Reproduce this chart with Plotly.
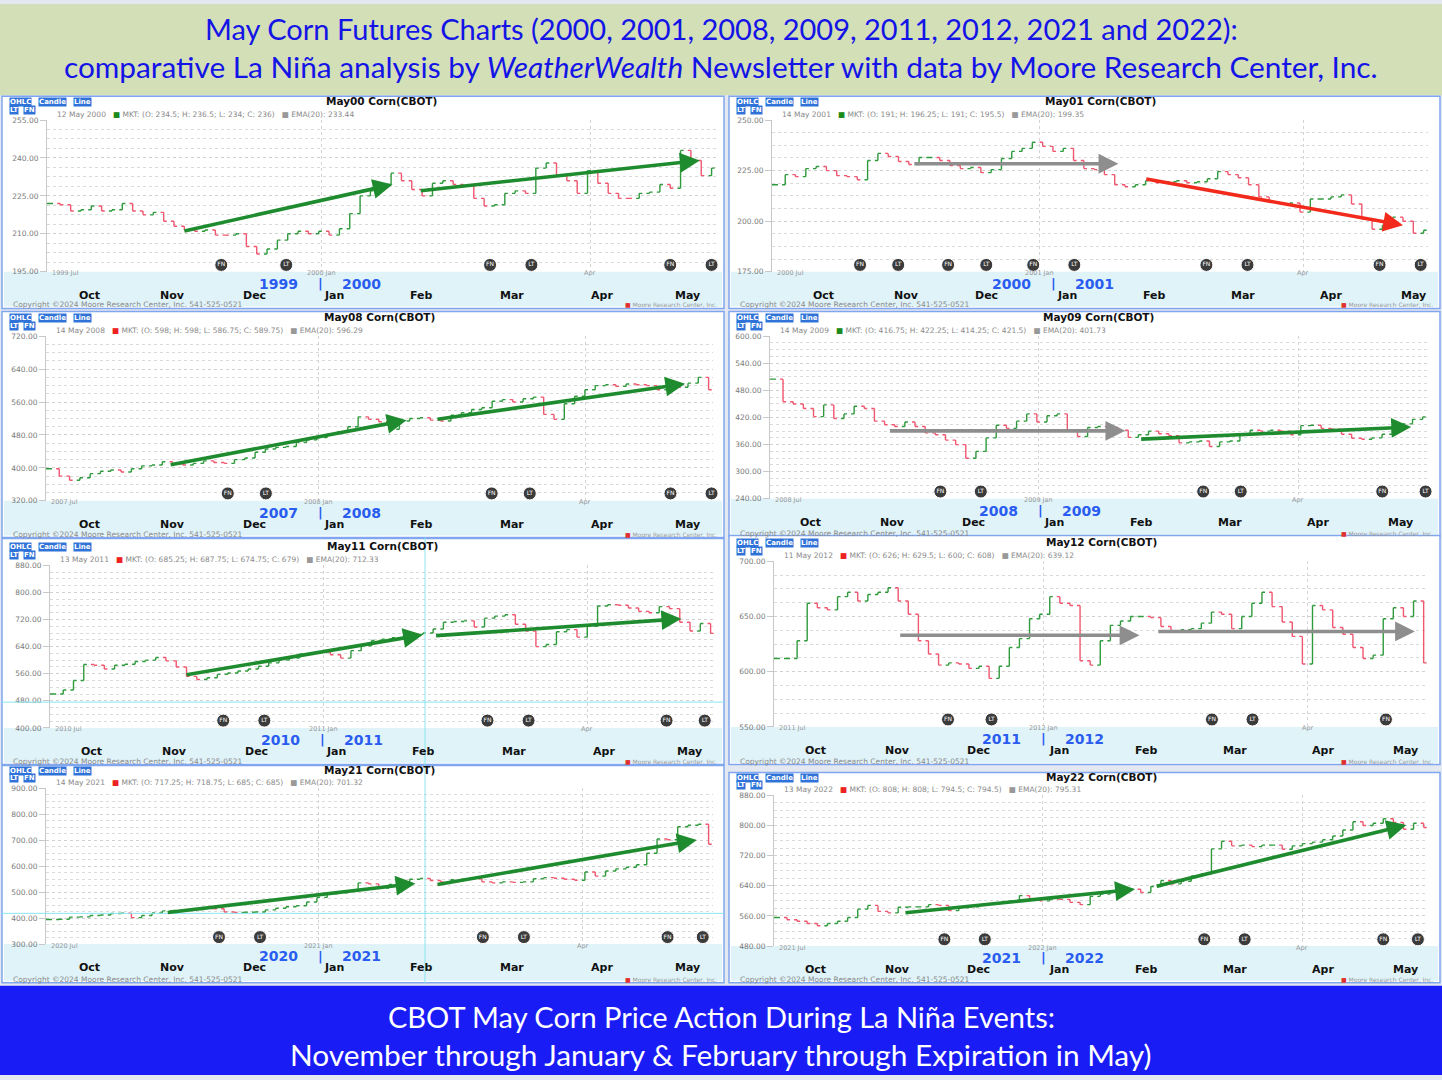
import pandas as pd
import plotly.graph_objects as go

W, H = 1442, 1080

# daily closes, spaced evenly from first to last bar date
may00_close = [222, 221.5, 219, 219.5, 221, 219, 219.5, 222, 219, 217.5, 218.5, 215, 213, 211.5, 211, 211.5,
               209.5, 209.5, 210, 205, 202, 204, 207.5, 210, 211, 210, 211, 209.5, 212, 218, 225, 227, 229.5,
               234, 231, 227.5, 225, 230, 231, 229.5, 229, 224, 221, 221.5, 226, 227, 226, 236, 238, 233, 231,
               226, 235, 230, 226, 224, 224, 226, 226.5, 229.5, 228, 243, 239, 233, 236]
may01_close = [218, 223, 222, 226, 227, 225, 222.5, 222, 220.5, 230, 233.5, 232, 229.5, 228, 231.5, 231.5, 230,
               227.5, 226, 226.5, 224, 225.5, 231, 234.5, 236, 239, 237, 234.5, 236, 230, 226, 225.5, 223, 218,
               217, 218, 220, 219, 219.5, 220, 219, 219.5, 221, 224.5, 223, 221.5, 218, 212, 209.5, 208.5, 209,
               204.5, 211, 211, 212, 213, 208.5, 201, 196, 198, 202, 200, 194, 195.5]
may08_close = [398, 380, 370, 376, 386, 392, 395, 390, 398, 405, 407, 415, 410, 407, 411, 417, 413, 411, 420, 424,
               438, 446, 450, 452, 462, 468, 474, 482, 488, 500, 524, 518, 512, 494, 514, 520, 522, 516, 514, 528,
               534, 542, 546, 562, 566, 560, 568, 572, 530, 518, 556, 574, 590, 600, 602, 598, 604, 602, 600, 590,
               604, 596, 606, 620, 589.75]
may09_close = [505, 455, 450, 440, 422, 448, 418, 428, 445, 440, 412, 404, 400, 410, 400, 386, 382, 370, 360, 330,
               345, 375, 403, 396, 412, 428, 410, 424, 428, 390, 378, 398, 400, 398, 392, 376, 382, 390, 384, 380,
               364, 366, 368, 356, 366, 368, 382, 392, 390, 392, 390, 382, 402, 403, 396, 394, 383, 374, 372, 375,
               383, 398, 406, 416, 421.5]
may11_close = [500, 512, 540, 587, 585, 574, 585, 588, 596, 600, 608, 598, 580, 552, 543, 548, 558, 562, 568, 574,
               582, 592, 600, 606, 618, 622, 624, 616, 606, 628, 642, 658, 662, 666, 668, 676, 680, 692, 712, 714,
               716, 698, 724, 730, 734, 706, 686, 640, 646, 684, 690, 668, 700, 760, 764, 762, 754, 744, 740, 758,
               752, 712, 686, 708, 679]
may12_close = [612, 612, 628, 662, 658, 656, 668, 672, 664, 670, 672, 676, 664, 652, 628, 616, 606, 608, 607, 603,
               605, 594, 605, 622, 630, 648, 652, 668, 662, 660, 610, 606, 628, 642, 646, 650, 650, 649, 641, 636,
               638, 639, 644, 654, 652, 639, 650, 662, 672, 659, 645, 632, 607, 660, 656, 640, 634, 622, 612, 615,
               648, 658, 650, 664, 608]
may21_close = [395, 396, 404, 405, 410, 412, 418, 419, 402, 410, 420, 428, 430, 432, 433, 437, 436, 424, 422, 423,
               424, 432, 438, 444, 448, 462, 480, 494, 498, 505, 536, 532, 516, 530, 540, 550, 553, 545, 540, 548,
               550, 552, 540, 536, 540, 538, 540, 552, 556, 554, 550, 546, 578, 562, 582, 590, 596, 606, 650, 705,
               702, 752, 758, 762, 685]
may22_close = [556, 550, 546, 540, 534, 540, 546, 556, 578, 588, 572, 568, 583, 584, 584, 590, 588, 574, 582, 584,
               590, 592, 594, 600, 614, 606, 600, 605, 604, 596, 590, 612, 618, 624, 628, 631, 622, 638, 654, 645,
               652, 666, 672, 738, 758, 746, 748, 744, 748, 748, 737, 746, 752, 756, 762, 772, 788, 810, 800, 806,
               818, 808, 790, 806, 794.5]

closes = [may00_close, may01_close, may08_close, may09_close, may11_close, may12_close, may21_close, may22_close]
first_bar = ["1999-10-01", "2000-10-03", "2007-10-01", "2008-10-01", "2010-10-01", "2011-10-01", "2020-10-01", "2021-10-01"]
last_bar = ["2000-05-12", "2001-05-12", "2008-05-13", "2009-05-14", "2011-05-13", "2012-05-11", "2021-05-14", "2022-05-13"]

titles = ["May00 Corn(CBOT)", "May01 Corn(CBOT)", "May08 Corn(CBOT)", "May09 Corn(CBOT)",
          "May11 Corn(CBOT)", "May12 Corn(CBOT)", "May21 Corn(CBOT)", "May22 Corn(CBOT)"]
quote_dates = ["12 May 2000", "14 May 2001", "14 May 2008", "14 May 2009", "13 May 2011", "11 May 2012", "14 May 2021", "13 May 2022"]
quote_text = ["MKT: (O: 234.5; H: 236.5; L: 234; C: 236)", "MKT: (O: 191; H: 196.25; L: 191; C: 195.5)",
              "MKT: (O: 598; H: 598; L: 586.75; C: 589.75)", "MKT: (O: 416.75; H: 422.25; L: 414.25; C: 421.5)",
              "MKT: (O: 685.25; H: 687.75; L: 674.75; C: 679)", "MKT: (O: 626; H: 629.5; L: 600; C: 608)",
              "MKT: (O: 717.25; H: 718.75; L: 685; C: 685)", "MKT: (O: 808; H: 808; L: 794.5; C: 794.5)"]
quote_up = [True, True, False, True, False, False, False, False]
ema_text = ["EMA(20): 233.44", "EMA(20): 199.35", "EMA(20): 596.29", "EMA(20): 401.73",
            "EMA(20): 712.33", "EMA(20): 639.12", "EMA(20): 701.32", "EMA(20): 795.31"]
seasons = [("1999", "2000"), ("2000", "2001"), ("2007", "2008"), ("2008", "2009"),
           ("2010", "2011"), ("2011", "2012"), ("2020", "2021"), ("2021", "2022")]
y_lo = [195, 175, 320, 240, 400, 550, 300, 480]
y_hi = [255, 250, 720, 600, 880, 700, 900, 880]
y_step = [15, 25, 80, 60, 80, 50, 100, 80]

# first notice / last trading day flags (alternating FN, LT)
notice_dates = [
    ["1999-11-28", "1999-12-20", "2000-02-27", "2000-03-12", "2000-04-28", "2000-05-12"],
    ["2000-11-01", "2000-11-14", "2000-12-01", "2000-12-14", "2000-12-30", "2001-01-13",
     "2001-02-27", "2001-03-13", "2001-04-27", "2001-05-11"],
    ["2007-12-01", "2007-12-14", "2008-02-29", "2008-03-13", "2008-04-30", "2008-05-14"],
    ["2008-11-28", "2008-12-12", "2009-02-27", "2009-03-12", "2009-04-30", "2009-05-15"],
    ["2010-11-28", "2010-12-12", "2011-02-26", "2011-03-12", "2011-04-28", "2011-05-11"],
    ["2011-11-29", "2011-12-14", "2012-02-28", "2012-03-13", "2012-04-28"],
    ["2020-11-28", "2020-12-12", "2021-02-26", "2021-03-12", "2021-04-30", "2021-05-12"],
    ["2021-11-28", "2021-12-12", "2022-02-26", "2022-03-12", "2022-04-29", "2022-05-11"],
]

GREEN, RED, GREY = "#1e8c2e", "#f22a1c", "#8e8e8e"
# trend arrows: (start date, start price, end date, end price, colour)
trend_arrows = [
    [("1999-11-15", 211, "2000-01-25", 229.5, GREEN), ("2000-02-03", 227, "2000-05-08", 239, GREEN)],
    [("2000-11-19", 228.4, "2001-01-28", 228.4, GREY), ("2001-02-06", 221, "2001-05-05", 198, RED)],
    [("2007-11-11", 407, "2008-01-31", 516, GREEN), ("2008-02-10", 517.6, "2008-05-05", 604.6, GREEN)],
    [("2008-11-10", 390.5, "2009-01-31", 390.5, GREY), ("2009-02-05", 372, "2009-05-10", 399, GREEN)],
    [("2010-11-15", 556, "2011-02-04", 675, GREEN), ("2011-02-08", 672, "2011-05-03", 722, GREEN)],
    [("2011-11-12", 633, "2012-02-03", 633, GREY), ("2012-02-09", 636.5, "2012-05-08", 636.5, GREY)],
    [("2020-11-10", 421, "2021-02-03", 534, GREEN), ("2021-02-10", 529, "2021-05-10", 701.6, GREEN)],
    [("2021-11-14", 568, "2022-02-02", 631, GREEN), ("2022-02-09", 638, "2022-05-07", 801, GREEN)],
]
months = ["Oct", "Nov", "Dec", "Jan", "Feb", "Mar", "Apr", "May"]

# page layout in pixels: panel frame and price area as (left, right, top, bottom)
frames = [(2, 724, 93, 307), (729, 1440, 93, 307), (2, 724, 310, 538), (729, 1440, 310, 537),
          (2, 724, 539, 767), (729, 1440, 536, 767), (2, 724, 768, 987), (729, 1440, 775, 987)]
areas = [(47, 716, 117, 270), (772, 1428, 117, 270), (46, 713, 335, 501), (770, 1427, 335, 499),
         (50, 715, 566, 730), (774, 1428, 562, 729), (46, 713, 791, 948), (774, 1428, 798, 950)]
month_x_left = [89, 172, 254, 334, 421, 512, 602, 687]
month_x_right = [815, 898, 978, 1059, 1146, 1235, 1323, 1405]
month_shift = [0, 8, 0, -5, 2, 0, 0, 0]
divider_x = [320, 1053, 320, 1040, 322, 1043, 320, 1043]

UP, DOWN = "#2f9a3c", "#f0566e"
FONT = "DejaVu Sans"
TITLE_FONT = "Lato"


def px(x):
    return x / W


def py(y):
    return 1 - y / H


shapes, notes = [], []


def label(x, y, s, size, color="#333", xanchor="center", xref="paper", yref="paper", family=FONT, **kw):
    notes.append(dict(x=x, y=y, xref=xref, yref=yref, text=s, showarrow=False, xanchor=xanchor,
                      yanchor="middle", font=dict(family=family, size=size, color=color), **kw))


def box(x0, x1, y0, y1, fill, line=None, layer="below"):
    shapes.append(dict(type="rect", xref="paper", yref="paper", x0=px(x0), x1=px(x1), y0=py(y1), y1=py(y0),
                       fillcolor=fill, line=dict(width=1.5 if line else 0, color=line or fill), layer=layer))


fig = go.Figure()

# title strip and footer strip
box(0, W, 0, 92, "#d3dfb6")
box(0, W, 990, H, "#1a1cf5")
label(0.5, py(25), "May Corn Futures Charts (2000, 2001, 2008, 2009, 2011, 2012, 2021 and 2022):", 29,
      "#1414e6", family=TITLE_FONT)
label(0.5, py(63), "comparative La Niña analysis by <i>WeatherWealth</i> Newsletter with data by Moore Research Center, Inc.",
      29.8, "#1414e6", family=TITLE_FONT)
label(0.5, py(1021), "CBOT May Corn Price Action During La Niña Events:", 29, "white", family=TITLE_FONT)
label(0.5, py(1059), "November through January &amp; February through Expiration in May)", 29.8, "white",
      family=TITLE_FONT)

for k in range(8):
    ax = "" if k == 0 else str(k + 1)
    fl, fr, ft, fb = frames[k]
    al, ar, at, ab = areas[k]
    y0, y1 = seasons[k]

    box(fl, fr, ft, fb, "white", "#7fa6ee")
    box(fl + 2, fr - 2, ab, fb - 2, "#dff3f9")

    # price bars: open taken as the previous close
    c = closes[k]
    o = [c[0]] + c[:-1]
    dates = pd.date_range(first_bar[k], last_bar[k], periods=len(c))
    fig.add_trace(go.Ohlc(
        x=dates, open=o, close=c,
        high=[max(a, b) for a, b in zip(o, c)], low=[min(a, b) for a, b in zip(o, c)],
        xaxis="x" + ax, yaxis="y" + ax, showlegend=False, hoverinfo="skip", tickwidth=0.3,
        increasing=dict(line=dict(color=UP, width=1.4)), decreasing=dict(line=dict(color=DOWN, width=1.4)),
    ))

    # FN / LT flags near the foot of the chart
    tags = ["FN" if i % 2 == 0 else "LT" for i in range(len(notice_dates[k]))]
    fy = y_lo[k] + 0.045 * (y_hi[k] - y_lo[k])
    fig.add_trace(go.Scatter(
        x=notice_dates[k], y=[fy] * len(tags), text=tags, mode="markers+text",
        marker=dict(size=13, color="#3b3b3b", line=dict(color="white", width=1)),
        textfont=dict(family=FONT, size=6, color="white"), textposition="middle center",
        xaxis="x" + ax, yaxis="y" + ax, showlegend=False, hoverinfo="skip", cliponaxis=False,
    ))

    start = pd.Timestamp(first_bar[k]) - pd.Timedelta(days=1)
    end = pd.Timestamp(last_bar[k]) + pd.Timedelta(days=1.5)
    fig.update_layout(**{
        "xaxis" + ax: dict(
            domain=[px(al), px(ar)], anchor="y" + ax, type="date", range=[start, end],
            tickvals=[f"{y1}-01-01", f"{y1}-04-01"], showticklabels=False, ticks="",
            showgrid=True, gridcolor="#d4d4d4", griddash="dot", gridwidth=1,
            zeroline=False, showline=False, rangeslider=dict(visible=False), fixedrange=True,
        ),
        "yaxis" + ax: dict(
            domain=[py(ab), py(at)], anchor="x" + ax, range=[y_lo[k], y_hi[k]],
            tick0=y_lo[k], dtick=y_step[k], tickformat=".2f",
            tickfont=dict(family=FONT, size=7.5, color="#7a7a7a"),
            ticks="outside", ticklen=6, tickcolor="#c8c8c8",
            showgrid=True, gridcolor="#d0d0d0", griddash="dot",
            minor=dict(dtick=y_step[k] / 4, showgrid=True, gridcolor="#dadada", griddash="dot"),
            showline=True, linecolor="#c8c8c8", linewidth=1, zeroline=False, fixedrange=True,
        ),
    })

    # trend arrows
    for sx, sy, ex, ey, col in trend_arrows[k]:
        notes.append(dict(x=ex, y=ey, ax=sx, ay=sy, xref="x" + ax, yref="y" + ax, axref="x" + ax,
                          ayref="y" + ax, text="", showarrow=True, arrowhead=2, arrowsize=1.1,
                          arrowwidth=3.6, arrowcolor=col))

    # chart header
    for txt, dx, row in [("OHLC", 7, 0), ("Candle", 36, 0), ("Line", 71, 0), ("LT", 7, 1), ("FN", 21, 1)]:
        label(px(fl + dx), py(at - 18 + 7.5 * row), f"<b>{txt}</b>", 7, "white", xanchor="left",
              bgcolor="#2f72d8", borderpad=0)
    label(px((al + ar) / 2), py(at - 19), f"<b>{titles[k]}</b>", 10.5, "#111")
    sq_mkt = "#1a8a1a" if quote_up[k] else "#ee2222"
    label(px(al + 8), py(at - 6),
          f"{quote_dates[k]}\u00a0\u00a0\u00a0<span style='color:{sq_mkt}'>■</span> {quote_text[k]}"
          f"\u00a0\u00a0\u00a0<span style='color:#999'>■</span> {ema_text[k]}",
          7.5, "#8a8a8a", xanchor="left")

    # axis captions inside the foot of the chart
    label(px(al + 3), py(ab + 1.5), f"{y0} Jul", 6.5, "#999", xanchor="left")
    label(f"{y1}-01-01", py(ab + 1.5), f"{y1} Jan", 6.5, "#999", xref="x" + ax)
    label(f"{y1}-04-01", py(ab + 1.5), "Apr", 6.5, "#999", xref="x" + ax)

    # season years and month strip
    dv = divider_x[k]
    label(px(dv - 20), py(ab + 12), f"<b>{y0}</b>", 14, "#2a5cf0", xanchor="right")
    label(px(dv), py(ab + 12), "<b>|</b>", 13, "#2a5cf0")
    label(px(dv + 20), py(ab + 12), f"<b>{y1}</b>", 14, "#2a5cf0", xanchor="left")
    mx = month_x_left if k % 2 == 0 else month_x_right
    for m, x in zip(months, mx):
        label(px(x + month_shift[k]), py(ab + 23.5), f"<b>{m}</b>", 11, "#111")

    label(px(fl + 9), py(fb - 3.5), "Copyright ©2024 Moore Research Center, Inc. 541-525-0521", 7.5, "#8a8a8a",
          xanchor="left")
    label(px(fr - 5), py(fb - 3.5), "<span style='color:#e03030'>■</span> Moore Research Center, Inc.", 6,
          "#999", xanchor="right")

# crosshair lines left on the captured screens
for x0, x1, yy0, yy1 in [(425, 425, 538, 987), (2, 724, 704, 704), (2, 724, 917, 917)]:
    shapes.append(dict(type="line", xref="paper", yref="paper", x0=px(x0), x1=px(x1), y0=py(yy0), y1=py(yy1),
                       line=dict(color="#8ae6f0", width=1), layer="above"))

fig.update_layout(
    width=W, height=H, margin=dict(l=0, r=0, t=0, b=0),
    paper_bgcolor="#e4e9f1", plot_bgcolor="rgba(0,0,0,0)",
    shapes=shapes, annotations=notes, showlegend=False,
)
fig.write_html("out.html", config={"displayModeBar": False},
               post_script="document.body.style.margin='0';")
